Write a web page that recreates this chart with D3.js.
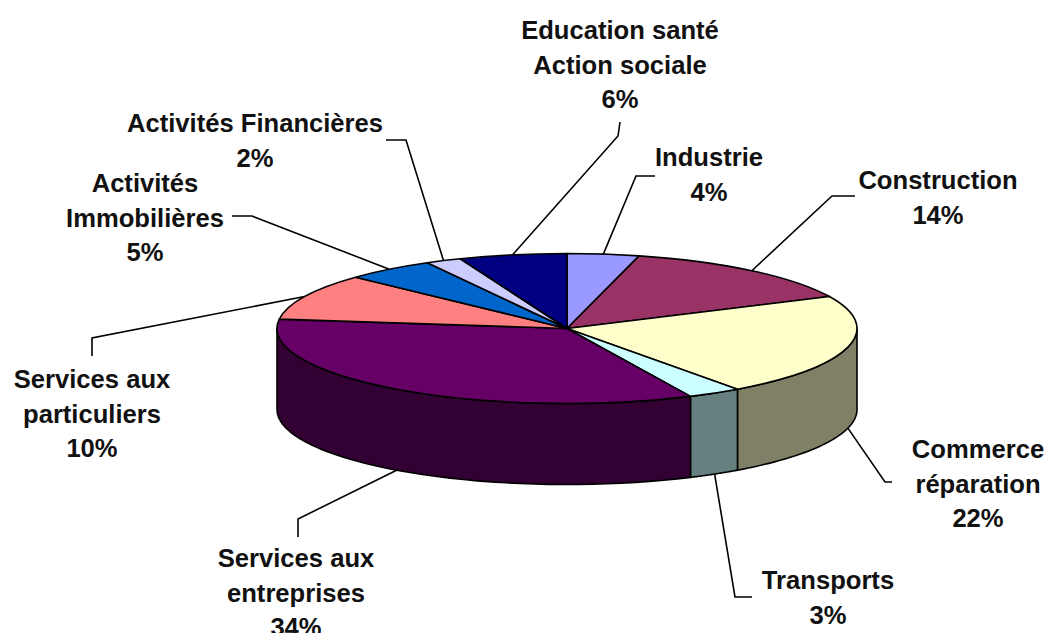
<!DOCTYPE html>
<html>
<head>
<meta charset="utf-8">
<script src="https://cdn.jsdelivr.net/npm/d3@7"></script>
<style>
  body { margin: 0; background: #fff; }
  text { font-family: "Liberation Sans", Arial, sans-serif; font-weight: bold; font-size: 25.6px; fill: #111; }
</style>
</head>
<body>
<svg id="chart" width="1050" height="633"></svg>
<script>
// data, clockwise from 12 o'clock
const sectors = ["Industrie", "Construction", "Commerce réparation", "Transports", "Services aux entreprises",
  "Services aux particuliers", "Activités Immobilières", "Activités Financières", "Education santé Action sociale"];
const shares = [4, 14, 22, 3, 34, 10, 5, 2, 6];
const topColors = ["#9999ff", "#993366", "#ffffcc", "#ccffff", "#660066", "#ff8080", "#0066cc", "#ccccff", "#000080"];
const sideColors = ["#4d4d80", "#4d1a33", "#808066", "#668080", "#330033", "#804040", "#003366", "#666680", "#000040"];

// label lines per sector, and where each block and its leader elbow sit
const labelLines = [
  ["Industrie", "4%"],
  ["Construction", "14%"],
  ["Commerce", "réparation", "22%"],
  ["Transports", "3%"],
  ["Services aux", "entreprises", "34%"],
  ["Services aux", "particuliers", "10%"],
  ["Activités", "Immobilières", "5%"],
  ["Activités Financières", "2%"],
  ["Education santé", "Action sociale", "6%"],
];
const labelAt = [[709, 166], [938, 189], [978, 458], [828, 589], [296, 567], [92, 388], [145, 192], [255, 132], [620, 39]];
const leaderFrom = [
  [[655, 176], [636, 176]],
  [[855, 196], [832, 196]],
  [[892, 482], [885, 482]],
  [[752, 597], [735, 597]],
  [[298, 537], [298, 519]],
  [[92, 356], [92, 338]],
  [[232, 216], [252, 216]],
  [[386, 140], [406, 140]],
  [[620, 122], [618, 136]],
];

const cx = 567, cy = 328.5, rx = 290, ry = 75, depth = 81, lineGap = 34.5;

const svg = d3.select("#chart");

const pie = d3.pie().sort(null).value(d => d)(shares);

// point on the rim for an angle measured clockwise from the top
function rim(a, drop) {
  return [cx + rx * Math.sin(a), cy - ry * Math.cos(a) + (drop || 0)];
}

const line = d3.line();

// side walls: only the front half of the disc shows
const front = [Math.PI / 2, Math.PI * 3 / 2];
svg.append("g")
  .selectAll("path")
  .data(pie.filter(d => d.endAngle > front[0] && d.startAngle < front[1]))
  .join("path")
  .attr("d", d => {
    const a0 = Math.max(d.startAngle, front[0]);
    const a1 = Math.min(d.endAngle, front[1]);
    const angles = d3.range(0, 41).map(i => a0 + (a1 - a0) * i / 40);
    const upper = angles.map(a => rim(a));
    const lower = angles.slice().reverse().map(a => rim(a, depth));
    return line(upper.concat(lower)) + "Z";
  })
  .attr("fill", d => sideColors[d.index])
  .attr("stroke", "#000")
  .attr("stroke-width", 1.6)
  .attr("stroke-linejoin", "round");

// top of the disc, squashed circle
const arc = d3.arc().innerRadius(0).outerRadius(rx);
svg.append("g")
  .attr("transform", `translate(${cx},${cy}) scale(1,${ry / rx})`)
  .selectAll("path")
  .data(pie)
  .join("path")
  .attr("d", arc)
  .attr("fill", d => topColors[d.index])
  .attr("stroke", "#000")
  .attr("stroke-width", 1.6)
  .attr("stroke-linejoin", "round")
  .attr("vector-effect", "non-scaling-stroke");

// leader lines end at the rim at each slice's mid angle
svg.append("g")
  .selectAll("path")
  .data(pie)
  .join("path")
  .attr("d", d => {
    const mid = (d.startAngle + d.endAngle) / 2;
    const end = rim(mid, Math.cos(mid) < 0 ? depth : 0);
    return line(leaderFrom[d.index].concat([end]));
  })
  .attr("fill", "none")
  .attr("stroke", "#000")
  .attr("stroke-width", 1.6);

// labels
const labels = svg.append("g")
  .selectAll("text")
  .data(sectors)
  .join("text")
  .attr("text-anchor", "middle")
  .attr("transform", (d, i) => `translate(${labelAt[i][0]},${labelAt[i][1]})`);

labels.selectAll("tspan")
  .data((d, i) => labelLines[i])
  .join("tspan")
  .attr("x", 0)
  .attr("y", (d, i) => i * lineGap)
  .text(d => d);
</script>
</body>
</html>
